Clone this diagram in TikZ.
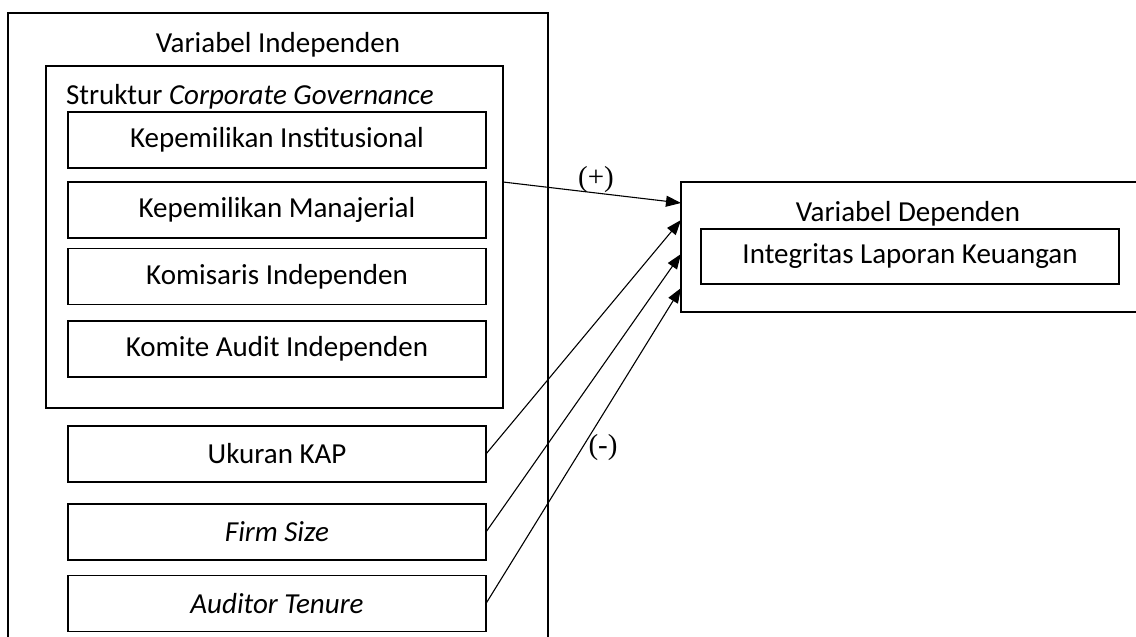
\documentclass[tikz,border=0pt]{standalone}
\usepackage{fontspec}
\setmainfont{Carlito}
\newfontfamily\tnr{Liberation Serif}
\usetikzlibrary{arrows.meta,calc}
\begin{document}
\begin{tikzpicture}[x=1pt,y=-1pt,
  line width=1.4pt,
  every node/.style={font=\fontsize{29}{34}\selectfont, inner sep=0pt, outer sep=0pt},
  box/.style={draw, rectangle, minimum width=418pt, minimum height=56pt},
  frame/.style={draw, rectangle},
  txt/.style={yshift=-2pt},
  arr/.style={-{Triangle[length=15pt,width=11pt]}, line width=1.1pt},
  lbl/.style={font=\tnr\fontsize{29}{34}\selectfont}]
\useasboundingbox (0,0) rectangle (1136,637);
\clip (0,0) rectangle (1136,637);
\fill[white] (0,0) rectangle (1136,637);
% outer independent frame (bottom lies beyond the page)
\node[frame, minimum width=540pt, minimum height=700pt] (indep) at (278,363) {};
\node (indeptitle) at (278,45) {Variabel Independen};
% corporate governance frame
\node[frame, minimum width=457pt, minimum height=342pt] (cg) at (274.5,237) {};
\node[anchor=base west] (cgtitle) at (66,104) {Struktur \textit{Corporate Governance}};
\node[box] (b1) at (277,140) {\raisebox{-2pt}{Kepemilikan Institusional}};
\node[box] (b2) at (277,210) {\raisebox{-2pt}{Kepemilikan Manajerial}};
\node[box] (b3) at (277,276.5) {\raisebox{-2pt}{Komisaris Independen}};
\node[box] (b4) at (277,349) {\raisebox{-2pt}{Komite Audit Independen}};
\node[box] (kap) at (277,454) {\raisebox{-2pt}{Ukuran KAP}};
\node[box] (firm) at (277,532) {\raisebox{-2pt}{\textit{Firm Size}}};
\node[box] (ten) at (277,603.5) {\raisebox{-2pt}{\textit{Auditor Tenure}}};
% dependent frame (right side lies beyond the page)
\node[frame, minimum width=560pt, minimum height=130pt] (dep) at (961,247) {};
\node (deptitle) at (908,214) {Variabel Dependen};
\node[draw, rectangle, minimum width=418pt, minimum height=55pt] (ilk) at (910,256.5) {\raisebox{-2pt}{Integritas Laporan Keuangan}};
% connectors
\coordinate (s1) at (cg.east |- b2.north);
\coordinate (t1) at ($(dep.north west)+(0,21)$);
\coordinate (t2) at ($(dep.north west)+(0,38)$);
\coordinate (t3) at ($(dep.north west)+(0,72)$);
\coordinate (t4) at ($(dep.north west)+(0,106)$);
\draw[arr] (s1) -- (t1);
\draw[arr] (kap.east) -- (t2);
\draw[arr] (firm.east) -- (t3);
\draw[arr] (ten.east) -- (t4);
\node[lbl] (plus) at (596,180) {(+)};
\node[lbl] (minus) at (603,448) {(-)};
\end{tikzpicture}
\end{document}
